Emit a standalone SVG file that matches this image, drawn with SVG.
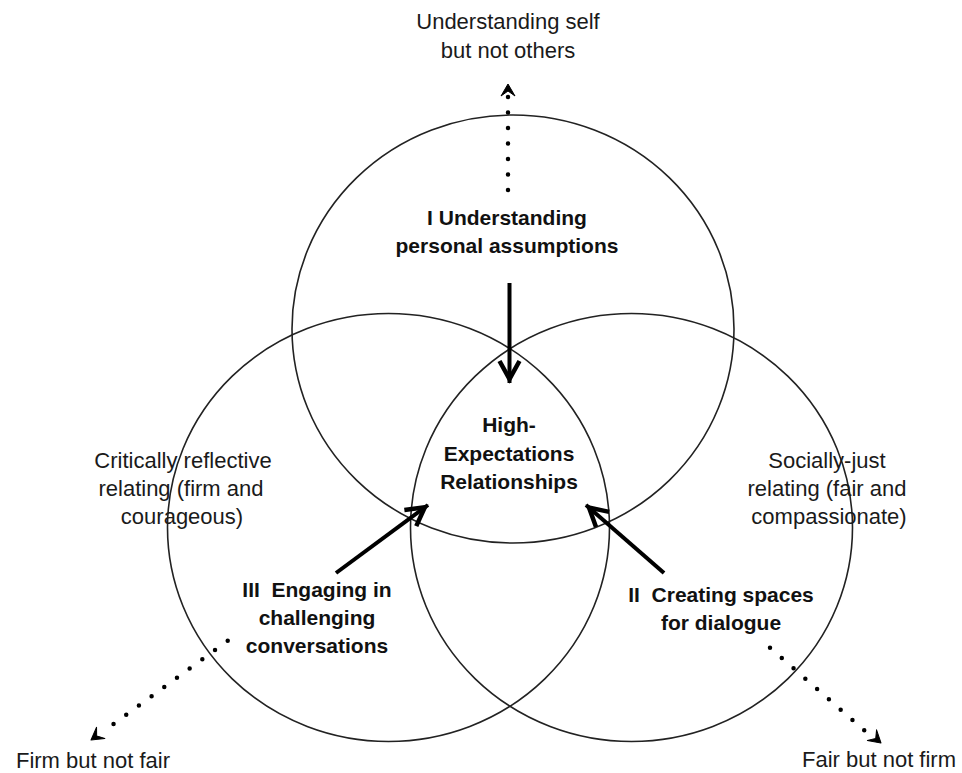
<svg xmlns="http://www.w3.org/2000/svg" width="962" height="773" viewBox="0 0 962 773">
  <style>
    .ring { fill: none; stroke: #222; stroke-width: 1.6; }
    .reg { font-family: "Liberation Sans", Arial, sans-serif; font-size: 22px; fill: #1a1a1a; text-anchor: middle; }
    .bold { font-family: "Liberation Sans", Arial, sans-serif; font-size: 21px; font-weight: bold; fill: #111; text-anchor: middle; }
    .solid { stroke: #000; stroke-width: 4; fill: none; }
    .dots { stroke: #000; stroke-width: 4.5; stroke-linecap: round; fill: none; }
    .tip { fill: #000; stroke: #000; stroke-width: 1; stroke-linejoin: round; }
  </style>
  <defs>
    <marker id="head" viewBox="-26 -14 28 28" refX="0" refY="0" markerWidth="28" markerHeight="28" markerUnits="userSpaceOnUse" orient="auto">
      <path d="M-22,-10 L-4,0 L-22,10" fill="none" stroke="#000" stroke-width="4.5" stroke-linejoin="miter"/>
    </marker>
    <path id="small" d="M0,0 L-12,-7 L-7,0 L-12,7 Z"/>
  </defs>

  <rect width="962" height="773" fill="#fff"/>

  <g id="node-top">
    <ellipse class="ring" cx="513" cy="329" rx="221" ry="214"/>
    <text class="bold" x="507" y="225">I Understanding</text>
    <text class="bold" x="507" y="253">personal assumptions</text>
  </g>

  <g id="node-left">
    <ellipse class="ring" cx="388.5" cy="527.5" rx="221" ry="214"/>
    <text class="bold" x="317" y="597" xml:space="preserve">III  Engaging in</text>
    <text class="bold" x="317" y="625">challenging</text>
    <text class="bold" x="317" y="653">conversations</text>
  </g>

  <g id="node-right">
    <ellipse class="ring" cx="631.5" cy="527.5" rx="221" ry="214"/>
    <text class="bold" x="721" y="602" xml:space="preserve">II  Creating spaces</text>
    <text class="bold" x="721" y="630">for dialogue</text>
  </g>

  <g id="node-center">
    <text class="bold" x="509" y="432">High-</text>
    <text class="bold" x="509" y="461">Expectations</text>
    <text class="bold" x="509" y="489">Relationships</text>
  </g>

  <g id="label-left">
    <text class="reg" x="183" y="468">Critically reflective</text>
    <text class="reg" x="181" y="496">relating (firm and</text>
    <text class="reg" x="182" y="524">courageous)</text>
  </g>

  <g id="label-right">
    <text class="reg" x="827" y="468">Socially-just</text>
    <text class="reg" x="827" y="496">relating (fair and</text>
    <text class="reg" x="829" y="524">compassionate)</text>
  </g>

  <g id="outcome-top">
    <text class="reg" x="508" y="29">Understanding self</text>
    <text class="reg" x="508" y="58">but not others</text>
  </g>

  <g id="outcome-left">
    <text class="reg" x="93" y="768">Firm but not fair</text>
  </g>

  <g id="outcome-right">
    <text class="reg" x="879" y="767">Fair but not firm</text>
  </g>

  <g id="connectors">
    <line class="solid" x1="509.5" y1="283" x2="509.5" y2="383" marker-end="url(#head)"/>
    <line class="solid" x1="336" y1="573" x2="428" y2="505" marker-end="url(#head)"/>
    <line class="solid" x1="664" y1="573" x2="586" y2="505" marker-end="url(#head)"/>

    <line class="dots" x1="508" y1="190" x2="508" y2="96.5" stroke-dasharray="0 15.5"/>
    <use href="#small" class="tip" transform="translate(508,84) rotate(-90)"/>

    <line class="dots" x1="227.7" y1="640.7" x2="112.8" y2="724.5" stroke-dasharray="0 15.7"/>
    <use href="#small" class="tip" transform="translate(91,740) rotate(143.8)"/>

    <line class="dots" x1="770" y1="647.7" x2="864.6" y2="730.6" stroke-dasharray="0 15.66"/>
    <use href="#small" class="tip" transform="translate(881,743) rotate(41.1)"/>
  </g>
</svg>
